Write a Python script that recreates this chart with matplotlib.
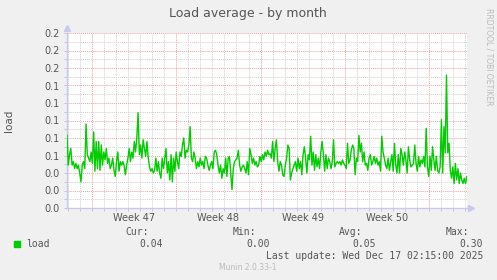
import datetime as dt
import matplotlib
matplotlib.use("Agg")
import matplotlib.pyplot as plt
import matplotlib.dates as mdates
import numpy as np

# time window of the graph (one month view, munin style)
t_start = dt.datetime(2025, 11, 13, 22, 10)
t_end = dt.datetime(2025, 12, 17, 3, 30)

# load values, left to right
load = [
    0.083, 0.049, 0.061, 0.068, 0.049, 0.053, 0.045, 0.051, 0.045, 0.049, 0.040, 0.030, 0.049, 0.053,
    0.045, 0.096, 0.061, 0.057, 0.053, 0.064, 0.051, 0.087, 0.042, 0.076, 0.045, 0.076, 0.043, 0.072,
    0.049, 0.064, 0.055, 0.068, 0.051, 0.057, 0.045, 0.049, 0.057, 0.043, 0.036, 0.053, 0.064, 0.042,
    0.053, 0.049, 0.053, 0.049, 0.038, 0.049, 0.057, 0.068, 0.053, 0.064, 0.057,
    0.076, 0.064, 0.080, 0.109, 0.061, 0.072, 0.057, 0.078, 0.068, 0.059, 0.076, 0.057, 0.047, 0.042,
    0.045, 0.040, 0.043, 0.057, 0.042, 0.053, 0.040, 0.034, 0.057, 0.045, 0.057, 0.068, 0.040, 0.053,
    0.032, 0.061, 0.030, 0.057, 0.042, 0.064, 0.053, 0.045, 0.064, 0.059, 0.072, 0.080, 0.057, 0.066,
    0.064, 0.072, 0.093, 0.057, 0.053, 0.064, 0.057, 0.045, 0.053, 0.047, 0.057,
    0.049, 0.053, 0.045, 0.059, 0.057, 0.049, 0.043, 0.049, 0.053, 0.045, 0.064, 0.066, 0.061, 0.049,
    0.040, 0.049, 0.034, 0.045, 0.040, 0.057, 0.036, 0.057, 0.059, 0.040, 0.021, 0.045, 0.053, 0.055,
    0.057, 0.066, 0.049, 0.042, 0.047, 0.049, 0.045, 0.040, 0.053, 0.038, 0.068, 0.061, 0.051, 0.057,
    0.049, 0.053, 0.047, 0.049, 0.059, 0.053, 0.061, 0.055, 0.064, 0.059, 0.066, 0.061,
    0.062, 0.057, 0.076, 0.053, 0.068, 0.078, 0.053, 0.042, 0.053, 0.049, 0.038, 0.036, 0.049, 0.057,
    0.072, 0.068, 0.032, 0.040, 0.045, 0.049, 0.053, 0.042, 0.057, 0.045, 0.053, 0.038, 0.061, 0.070,
    0.057, 0.040, 0.061, 0.055, 0.082, 0.049, 0.064, 0.043, 0.061, 0.047, 0.057, 0.045, 0.064, 0.076,
    0.061, 0.042, 0.061, 0.045, 0.057, 0.053, 0.045, 0.053, 0.078, 0.047, 0.051,
    0.053, 0.051, 0.053, 0.049, 0.055, 0.051, 0.049, 0.045, 0.074, 0.051, 0.055, 0.066, 0.072, 0.068,
    0.038, 0.057, 0.053, 0.083, 0.064, 0.074, 0.053, 0.064, 0.049, 0.051, 0.043, 0.057, 0.061, 0.049,
    0.053, 0.059, 0.051, 0.057, 0.049, 0.053, 0.042, 0.082, 0.064, 0.057, 0.049, 0.045, 0.057, 0.043,
    0.053, 0.061, 0.042, 0.074, 0.049, 0.040, 0.061, 0.040, 0.068, 0.061, 0.049, 0.064,
    0.055, 0.040, 0.070, 0.055, 0.047, 0.049, 0.051, 0.072, 0.051, 0.042, 0.059, 0.047, 0.055, 0.051,
    0.059, 0.047, 0.091, 0.047, 0.036, 0.059, 0.043, 0.070, 0.055, 0.043, 0.059, 0.043, 0.040, 0.047,
    0.101, 0.040, 0.093, 0.063, 0.152, 0.063, 0.074, 0.043, 0.034, 0.047, 0.028, 0.051, 0.032, 0.045,
    0.028, 0.040, 0.032, 0.028, 0.034, 0.028, 0.036,
]

week_labels = ["Week 47", "Week 48", "Week 49", "Week 50"]
week_mid = [dt.datetime(2025, 11, 19, 12), dt.datetime(2025, 11, 26, 12),
            dt.datetime(2025, 12, 3, 12), dt.datetime(2025, 12, 10, 12)]
legend_head = ["Cur:", "Min:", "Avg:", "Max:"]
legend_vals = ["0.04", "0.00", "0.05", "0.30"]

bg = "#F0F0F0"
txt = "#555555"

t0 = mdates.date2num(t_start)
t1 = mdates.date2num(t_end)
times = np.linspace(t0, t0 + (t1 - t0) * 0.9995, len(load))

fig = plt.figure(figsize=(4.97, 2.80), dpi=100, facecolor=bg)
ax = fig.add_axes([67 / 497, 72 / 280, 400 / 497, 175 / 280])
ax.set_facecolor("white")

ax.plot(times, load, color="#00CC00", linewidth=1.0, zorder=3)

ax.set_xlim(t0, t1)
ax.set_ylim(0, 0.2)

# grid: daily / 0.01 minor, weekly / 0.02 major
ax.xaxis.set_major_locator(mdates.WeekdayLocator(byweekday=mdates.SU))
ax.xaxis.set_minor_locator(mdates.DayLocator())
ax.xaxis.set_major_formatter(plt.NullFormatter())
ax.set_yticks(np.arange(0, 0.2001, 0.02))
ax.set_yticks(np.arange(0, 0.2001, 0.01), minor=True)
ax.set_yticklabels(["%.1f" % v for v in np.arange(0, 0.2001, 0.02)])

ax.grid(which="minor", color="#D0D0D0", linestyle=(0, (1, 1)), linewidth=0.7)
ax.grid(which="major", color="#F0A0A0", linestyle=(0, (1, 1)), linewidth=0.7)
ax.set_axisbelow(True)

ax.tick_params(axis="both", which="both", length=2, width=0.6, color="#C0C0C0",
               direction="out", labelsize=7, labelcolor=txt, pad=2)
ax.tick_params(axis="y", which="major", pad=3)

for s in ["top", "right"]:
    ax.spines[s].set_visible(False)
for s in ["left", "bottom"]:
    ax.spines[s].set_color("#C8C8F0")
    ax.spines[s].set_linewidth(1.0)
ax.plot([0], [1.03], marker="^", markersize=4, color="#C8C8F0", transform=ax.transAxes, clip_on=False)
ax.plot([1.01], [0], marker=">", markersize=4, color="#C8C8F0", transform=ax.transAxes, clip_on=False)

for lab, tm in zip(week_labels, week_mid):
    ax.text(mdates.date2num(tm), -0.03, lab, transform=ax.get_xaxis_transform(),
            ha="center", va="top", fontsize=7, color=txt)

ax.set_ylabel("load", fontsize=7.5, color=txt, labelpad=22)

fig.text(248 / 497, 1 - 13 / 280, "Load average - by month", ha="center", va="center",
         fontsize=9, color=txt)
fig.text(489 / 497, 1 - 57 / 280, "RRDTOOL / TOBI OETIKER", rotation=-90, ha="center",
         va="center", fontsize=5.5, color="#BBBBBB")

# legend block
mono = "DejaVu Sans Mono"
fig.patches.append(plt.Rectangle((14 / 497, 1 - 247 / 280), 6 / 497, 6 / 280,
                                 transform=fig.transFigure, color="#00CC00"))
fig.text(26 / 497, 1 - 244 / 280, "load", family=mono, fontsize=7, color=txt, va="center")
head_x = [149, 256, 362, 469]
val_x = [163, 270, 376, 483]
for h, hx, v, vx in zip(legend_head, head_x, legend_vals, val_x):
    fig.text(hx / 497, 1 - 232 / 280, h, family=mono, fontsize=7, color=txt, ha="right", va="center")
    fig.text(vx / 497, 1 - 244 / 280, v, family=mono, fontsize=7, color=txt, ha="right", va="center")
fig.text(483 / 497, 1 - 256 / 280, "Last update: Wed Dec 17 02:15:00 2025", family=mono,
         fontsize=7, color=txt, ha="right", va="center")
fig.text(248 / 497, 1 - 268 / 280, "Munin 2.0.33-1", fontsize=5.5, color="#BBBBBB",
         ha="center", va="center")

fig.savefig("out.png", dpi=100, facecolor=bg)
